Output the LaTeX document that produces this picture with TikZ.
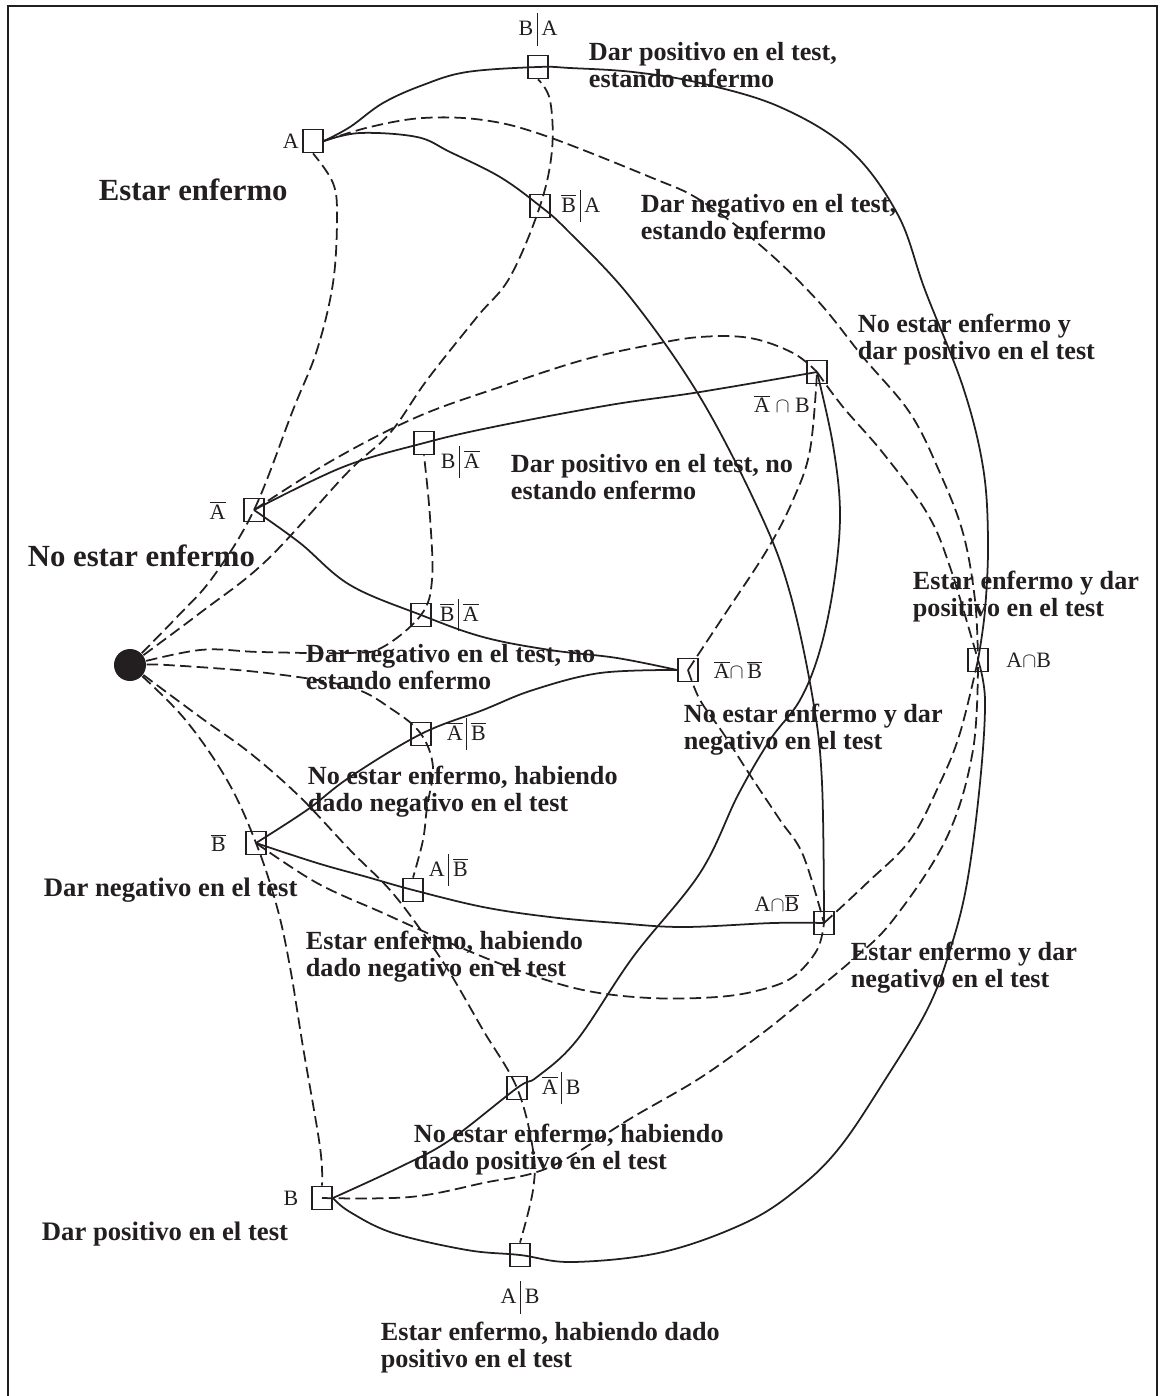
\documentclass[tikz,border=0pt]{standalone}
\usepackage{fontspec}
\setmainfont{Liberation Serif}
\usetikzlibrary{positioning}
\definecolor{ink}{RGB}{35,31,32}
\newcommand{\nbar}[1]{$\overline{\mbox{#1}}$}
\newcommand{\given}{\,\rule[-0.45em]{0.6pt}{1.5em}\,}

\begin{document}
\begin{tikzpicture}[x=0.02cm, y=-0.02cm, color=ink, line width=1pt,
    box/.style={draw, rectangle, minimum width=0.4cm, minimum height=0.46cm, inner sep=0pt},
    evl/.style={inner sep=0pt, font=\fontsize{12.5}{14}\selectfont},
    txt/.style={inner sep=0pt, anchor=north west, align=left, font=\fontsize{14.9}{15.6}\selectfont\bfseries},
    bigtxt/.style={inner sep=0pt, anchor=base west, font=\fontsize{17.5}{20}\selectfont\bfseries},
    midtxt/.style={inner sep=0pt, anchor=base west, font=\fontsize{15.2}{16}\selectfont\bfseries},
    dline/.style={dash pattern=on 6.5pt off 3pt},
    curve/.style={smooth, tension=0.6}]
    \useasboundingbox (0,0) rectangle (1163,1396);
    \draw[line width=1.4pt] (8,1396) -- (8,6) -- (1157,6) -- (1157,1396);

    % starting point and event boxes
    \node[circle, fill, minimum size=0.64cm, inner sep=0pt] (root) at (130,665) {};
    \node[box] (A) at (313,141) {};
    \node[box] (BgA) at (538,67) {};
    \node[box] (nBgA) at (540,206) {};
    \node[box] (nA) at (254,510) {};
    \node[box] (BgnA) at (424,443) {};
    \node[box] (nBgnA) at (421,615) {};
    \node[box] (nAB) at (817,372) {};
    \node[box] (nAnB) at (688,670) {};
    \node[box] (AB) at (978,660) {};
    \node[box] (nAgnB) at (421,734) {};
    \node[box] (nB) at (256,843) {};
    \node[box] (AgnB) at (413,890) {};
    \node[box] (AnB) at (824,923) {};
    \node[box] (nAgB) at (517,1088) {};
    \node[box] (B) at (322,1198) {};
    \node[box] (AgB) at (520,1255) {};

    % event names
    \node[evl, left=1.5pt of A] (lblA) {A};
    \node[evl, above=4.5pt of BgA] (lblBgA) {B\given A};
    \node[evl, right=5.5pt of nBgA] (lblnBgA) {\nbar{B}\given A};
    \node[evl, left=9.5pt of nA] (lblnA) {\nbar{A}};
    \node[evl, anchor=west] (lblBgnA) at (440,462) {B\given\nbar{A}};
    \node[evl, right=4pt of nBgnA] (lblnBgnA) {\nbar{B}\given\nbar{A}};
    \node[evl, anchor=north] (lblnAB) at (782,394) {\nbar{A} $\cap$ B};
    \node[evl, right=8pt of nAnB] (lblnAnB) {\nbar{A}$\cap$\,\nbar{B}};
    \node[evl, right=9.5pt of AB] (lblAB) {A$\cap$B};
    \node[evl, right=8pt of nAgnB] (lblnAgnB) {\nbar{A}\given\nbar{B}};
    \node[evl, left=10.5pt of nB] (lblnB) {\nbar{B}};
    \node[evl, anchor=west] (lblAgnB) at (428,870) {A\given\nbar{B}};
    \node[evl] (lblAnB) at (777,903) {A$\cap$\nbar{B}};
    \node[evl, right=7.4pt of nAgB] (lblnAgB) {\nbar{A}\given B};
    \node[evl, left=6.8pt of B] (lblB) {B};
    \node[evl, below=7pt of AgB] (lblAgB) {A\given B};

    % descriptions
    \node[bigtxt] (tA) at (98,200) {Estar enfermo};
    \node[bigtxt] (tnA) at (27,566) {No estar enfermo};
    \node[midtxt] (tnB) at (43,896) {Dar negativo en el test};
    \node[midtxt] (tB) at (41,1240) {Dar positivo en el test};
    \node[txt] (tBgA) at (588,41) {Dar positivo en el test,\\estando enfermo};
    \node[txt] (tnBgA) at (640,193) {Dar negativo en el test,\\estando enfermo};
    \node[txt] (tnAB) at (857,313) {No estar enfermo y\\dar positivo en el test};
    \node[txt] (tBgnA) at (510,453) {Dar positivo en el test, no\\estando enfermo};
    \node[txt] (tAB) at (912,570) {Estar enfermo y dar\\positivo en el test};
    \node[txt] (tnBgnA) at (305,643) {Dar negativo en el test, no\\estando enfermo};
    \node[txt] (tnAnB) at (683,703) {No estar enfermo y dar\\negativo en el test};
    \node[txt] (tnAgnB) at (307,765) {No estar enfermo, habiendo\\dado negativo en el test};
    \node[txt] (tAgnB) at (305,930) {Estar enfermo, habiendo\\dado negativo en el test};
    \node[txt] (tAnB) at (850,941) {Estar enfermo y dar\\negativo en el test};
    \node[txt] (tnAgB) at (413,1123) {No estar enfermo, habiendo\\dado positivo en el test};
    \node[txt] (tAgB) at (380,1321) {Estar enfermo, habiendo dado\\positivo en el test};

    % first the illness, then the test
    \draw plot[curve] coordinates {(A.east) (350,127) (383,103) (423,85) (467,72) (BgA.center) (570,68) (633,72) (700,83) (780,107) (850,150) (898,215) (925,290) (963,387) (983,467) (988,540) (985,610) (AB.center)};
    \draw plot[curve] coordinates {(A.east) (360,133) (417,137) (450,152) (500,177) (nBgA.center) (567,230) (630,297) (700,397) (760,513) (790,593) (813,700) (822,783) (AnB.center)};
    \draw plot[curve] coordinates {(nA.center) (343,467) (BgnA.center) (493,427) (610,405) (700,392) (nAB.center)};
    \draw plot[curve] coordinates {(nA.center) (300,543) (350,585) (nBgnA.center) (483,637) (550,650) (617,658) (nAnB.west)};
    % first the test, then the illness
    \draw plot[curve] coordinates {(nB.center) (307,810) (350,777) (nAgnB.center) (483,710) (533,690) (600,673) (nAnB.west)};
    \draw plot[curve] coordinates {(nB.center) (317,863) (367,877) (AgnB.center) (483,907) (550,917) (617,923) (683,927) (773,923) (AnB.center)};
    \draw plot[curve] coordinates {(B.east) (400,1167) (450,1140) (nAgB.center) (537,1077) (577,1040) (633,957) (700,873) (738,795) (770,740) (800,700) (820,650) (834,583) (840,513) (833,445) (nAB.center)};
    \draw plot[curve] coordinates {(B.east) (350,1212) (393,1233) (467,1250) (AgB.center) (573,1262) (663,1252) (747,1222) (800,1187) (840,1147) (883,1083) (927,1010) (950,950) (967,883) (980,783) (985,700) (AB.center)};

    % dashed links
    \draw[dline] plot[curve] coordinates {(root.center) (177,617) (213,577) (nA.center) (293,410) (317,350) (333,283) (337,217) (333,183) (A.south)};
    \draw[dline] plot[curve] coordinates {(root.center) (200,613) (267,560) (347,473) (390,433) (427,380) (477,317) (510,277) (nBgA.center) (552,150) (550,100) (BgA.south)};
    \draw[dline] plot[curve] coordinates {(root.center) (200,650) (260,652) (350,653) (383,647) (nBgnA.center) (432,580) (430,517) (BgnA.south)};
    \draw[dline] plot[curve] coordinates {(root.center) (167,665) (267,673) (350,687) (393,710) (nAgnB.center) (433,767) (427,807) (423,840) (AgnB.north)};
    \draw[dline] plot[curve] coordinates {(root.center) (200,717) (250,753) (300,797) (350,850) (390,890) (423,933) (450,973) (483,1030) (nAgB.center) (533,1150) (533,1190) (AgB.north)};
    \draw[dline] plot[curve] coordinates {(root.center) (183,717) (227,780) (nB.center) (277,907) (290,967) (303,1047) (320,1147) (B.north)};
    \draw[dline] plot[curve] coordinates {(A.east) (370,127) (423,118) (483,120) (543,135) (650,177) (700,200) (760,245) (817,300) (863,357) (910,413) (940,473) (963,533) (975,600) (AB.center)};
    \draw[dline] plot[curve] coordinates {(nA.center) (333,460) (417,417) (500,387) (583,360) (650,345) (700,337) (750,338) (793,353) (nAB.center)};
    \draw[dline] plot[curve] coordinates {(nAB.center) (843,407) (883,453) (927,513) (950,567) (AB.center)};
    \draw[dline] plot[curve] coordinates {(nAnB.center) (723,617) (767,550) (793,500) (810,450) (nAB.center)};
    \draw[dline] plot[curve] coordinates {(nAnB.center) (700,700) (723,733) (750,775) (780,820) (803,855) (AnB.center)};
    \draw[dline] plot[curve] coordinates {(AnB.center) (867,883) (910,840) (940,783) (960,733) (AB.center)};
    \draw[dline] plot[curve] coordinates {(B.center) (410,1197) (483,1183) (550,1167) (633,1117) (700,1078) (760,1035) (800,1003) (850,962) (893,920) (947,837) (973,750) (AB.center)};
    \draw[dline] plot[curve] coordinates {(nB.center) (317,883) (383,913) (450,943) (517,970) (583,990) (650,998) (717,997) (760,990) (793,977) (817,950) (AnB.center)};
\end{tikzpicture}
\end{document}
